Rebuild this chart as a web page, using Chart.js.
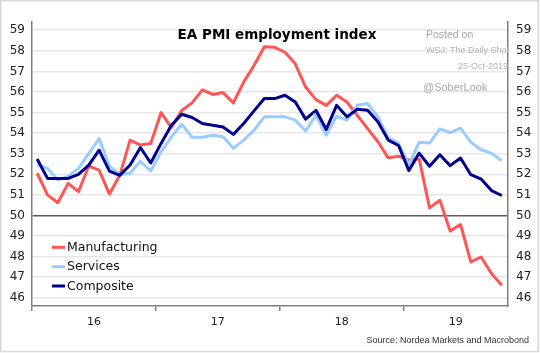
<!DOCTYPE html>
<html>
<head>
<meta charset="utf-8">
<script src="https://cdn.jsdelivr.net/npm/chart.js@4.4.1/dist/chart.umd.min.js"></script>
<style>
  html, body { margin: 0; padding: 0; background: #fff; }
  canvas { display: block; }
</style>
</head>
<body>
<canvas id="pmi" width="541" height="353"></canvas>
<script>
// monthly, Jan 2016 .. Oct 2019
const months = [
  'Jan-16','Feb-16','Mar-16','Apr-16','May-16','Jun-16','Jul-16','Aug-16','Sep-16','Oct-16','Nov-16','Dec-16',
  'Jan-17','Feb-17','Mar-17','Apr-17','May-17','Jun-17','Jul-17','Aug-17','Sep-17','Oct-17','Nov-17','Dec-17',
  'Jan-18','Feb-18','Mar-18','Apr-18','May-18','Jun-18','Jul-18','Aug-18','Sep-18','Oct-18','Nov-18','Dec-18',
  'Jan-19','Feb-19','Mar-19','Apr-19','May-19','Jun-19','Jul-19','Aug-19','Sep-19','Oct-19'
];
const manufacturing = [
  52.05, 51.0, 50.62, 51.56, 51.16, 52.4, 52.2, 51.04, 51.95, 53.66, 53.42, 53.5,
  55.0, 54.27, 55.1, 55.47, 56.1, 55.88, 55.97, 55.47, 56.48, 57.29, 58.2, 58.17,
  57.93, 57.37, 56.24, 55.63, 55.35, 55.84, 55.51, 54.87, 54.22, 53.58, 52.8, 52.88,
  52.69, 52.74, 50.37, 50.74, 49.24, 49.56, 47.74, 47.98, 47.18, 46.61
];
const services = [
  52.48, 52.29, 51.72, 51.9, 52.29, 53.0, 53.74, 52.4, 52.0, 52.05, 52.64, 52.16,
  53.09, 53.82, 54.43, 53.8, 53.8, 53.9, 53.82, 53.26, 53.66, 54.14, 54.79, 54.79,
  54.79, 54.63, 54.11, 54.87, 53.9, 54.83, 54.63, 55.35, 55.44, 54.79, 53.79, 53.5,
  52.47, 53.56, 53.52, 54.21, 54.03, 54.24, 53.56, 53.19, 53.03, 52.66
];
const composite = [
  52.74, 51.8, 51.8, 51.8, 52.0, 52.45, 53.17, 52.15, 51.95, 52.45, 53.3, 52.55,
  53.5, 54.38, 54.92, 54.76, 54.47, 54.38, 54.3, 53.94, 54.47, 55.08, 55.68, 55.68,
  55.84, 55.51, 54.68, 55.11, 54.18, 55.35, 54.79, 55.16, 55.11, 54.55, 53.66, 53.4,
  52.18, 53.03, 52.39, 52.95, 52.42, 52.79, 51.98, 51.77, 51.21, 50.97
];
const yTicks = [46, 47, 48, 49, 50, 51, 52, 53, 54, 55, 56, 57, 58, 59];
const yearLabels = ['16', '17', '18', '19'];

const X_MIN = -0.5, X_MAX = 45.6;
const Y_MIN = 45.6, Y_MAX = 59.4;

// year boundaries = half a month before each January
const yearStarts = months.map((m, i) => m.startsWith('Jan') ? i - 0.5 : null).filter(v => v !== null);
// label sits in the middle of the visible part of each year
const yearMids = yearStarts.map((s, i) => {
  const end = i + 1 < yearStarts.length ? yearStarts[i + 1] : X_MAX;
  return (s + end) / 2;
});

const pts = vals => vals.map((v, i) => ({ x: i, y: v }));

const tickFont = { family: 'DejaVu Sans', size: 12 };

const extras = {
  id: 'extras',
  beforeDraw(chart) {
    const c = chart.ctx;
    c.save();
    c.fillStyle = '#fff';
    c.fillRect(0, 0, chart.width, chart.height);
    c.strokeStyle = '#d8d8d8';
    c.lineWidth = 1.5;
    c.strokeRect(0.75, 0.75, 537.5, 350.8);
    c.restore();
  },
  afterDraw(chart) {
    const c = chart.ctx;
    const a = chart.chartArea;
    c.save();
    // title
    c.fillStyle = '#000';
    c.font = 'bold 13.5px "DejaVu Sans"';
    c.textAlign = 'center';
    c.textBaseline = 'middle';
    c.fillText('EA PMI employment index', 277, 35);

    // watermark
    c.fillStyle = '#a8a8a8';
    c.textAlign = 'left';
    c.font = '10.5px "Liberation Sans"';
    c.fillText('Posted on', 426, 35);
    c.fillStyle = '#b4b4b4';
    c.font = '9px "Liberation Sans"';
    c.fillText('WSJ: The Daily Shot', 426, 51);
    c.textAlign = 'right';
    c.fillText('25-Oct-2019', 508, 67);
    c.textAlign = 'left';
    c.font = '11px "Liberation Sans"';
    c.fillStyle = '#a8a8a8';
    c.fillText('@SoberLook', 423, 87.5);

    // source
    c.fillStyle = '#333';
    c.textAlign = 'right';
    c.font = '9px "Liberation Sans"';
    c.fillText('Source: Nordea Markets and Macrobond', 529, 341);

    // legend
    const rows = [-58.7, -39.3, -20];
    c.font = '12.5px "DejaVu Sans"';
    c.textAlign = 'left';
    chart.data.datasets.forEach((ds, i) => {
      const y = a.bottom + rows[i];
      c.strokeStyle = ds.borderColor;
      c.lineWidth = 3;
      c.beginPath();
      c.moveTo(a.left + 20, y);
      c.lineTo(a.left + 33, y);
      c.stroke();
      c.fillStyle = '#111';
      c.fillText(ds.label, a.left + 35, y + 0.5);
    });
    c.restore();
  }
};

new Chart(document.getElementById('pmi'), {
  type: 'line',
  data: {
    datasets: [
      { label: 'Manufacturing', data: pts(manufacturing), borderColor: '#ff5555', order: 3 },
      { label: 'Services', data: pts(services), borderColor: '#99ccff', order: 2 },
      { label: 'Composite', data: pts(composite), borderColor: '#00008f', order: 1 }
    ]
  },
  options: {
    responsive: false,
    devicePixelRatio: 1,
    animation: false,
    layout: { padding: { top: 22, left: 0, right: 0, bottom: 0 } },
    elements: {
      line: { borderWidth: 3, tension: 0, borderJoinStyle: 'round' },
      point: { radius: 0 }
    },
    plugins: {
      legend: { display: false },
      tooltip: { enabled: false }
    },
    scales: {
      x: {
        type: 'linear', position: 'bottom', weight: 0,
        min: X_MIN, max: X_MAX,
        afterBuildTicks: s => { s.ticks = yearStarts.map(v => ({ value: v })); },
        ticks: { display: false },
        grid: { drawOnChartArea: false, drawTicks: true, tickLength: 5, color: '#808080', lineWidth: 1.5 },
        border: { color: '#808080', width: 1.5 },
        afterFit: s => { s.height = 5; }
      },
      x2: {
        type: 'linear', position: 'bottom', weight: 1,
        min: X_MIN, max: X_MAX,
        afterBuildTicks: s => { s.ticks = yearMids.map(v => ({ value: v })); },
        ticks: {
          callback: (v, i) => yearLabels[i],
          font: { family: 'DejaVu Sans', size: 11 }, color: '#222',
          padding: 5, maxRotation: 0, autoSkip: false
        },
        grid: { display: false, drawTicks: false },
        border: { display: false },
        afterFit: s => { s.height = 42; }
      },
      y: {
        type: 'linear', position: 'left',
        min: Y_MIN, max: Y_MAX,
        afterBuildTicks: s => { s.ticks = yTicks.map(v => ({ value: v })); },
        ticks: { font: tickFont, color: '#222', padding: 7 },
        grid: {
          drawTicks: false,
          color: ctx => (ctx.tick && ctx.tick.value === 50) ? '#5c5c5c' : '#e6e6e6',
          lineWidth: 1.5
        },
        border: { color: '#808080', width: 1.5 },
        afterFit: s => { s.width = 32; }
      },
      y2: {
        type: 'linear', position: 'right',
        min: Y_MIN, max: Y_MAX,
        afterBuildTicks: s => { s.ticks = yTicks.map(v => ({ value: v })); },
        ticks: { font: tickFont, color: '#222', padding: 8 },
        grid: { drawOnChartArea: false, drawTicks: false },
        border: { color: '#808080', width: 1.5 },
        afterFit: s => { s.width = 33; }
      }
    }
  },
  plugins: [extras]
});
</script>
</body>
</html>
